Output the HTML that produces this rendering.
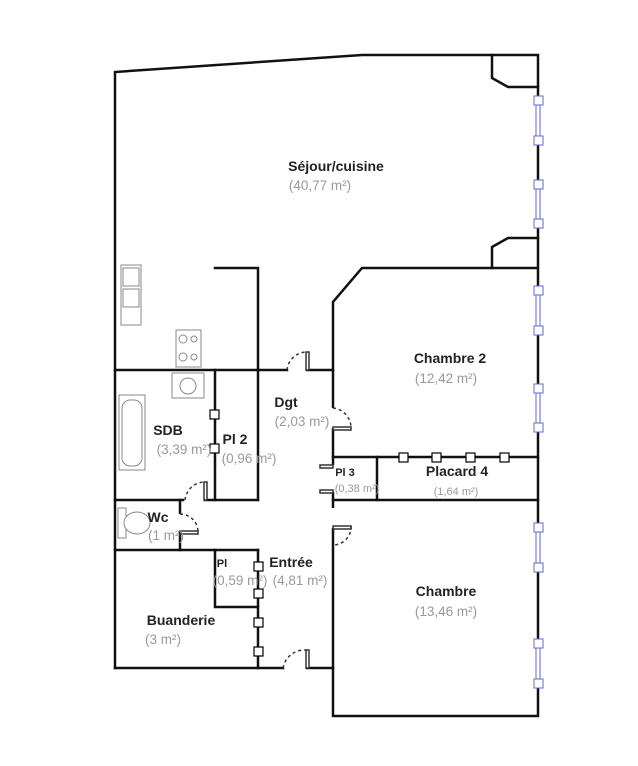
<!DOCTYPE html>
<html><head><meta charset="utf-8"><style>
body{margin:0;background:#fff;}
svg{display:block}
.n{font-family:"Liberation Sans",sans-serif;font-weight:bold;font-size:14px;fill:#222;text-anchor:middle}
.a{font-family:"Liberation Sans",sans-serif;font-size:13.5px;fill:#999;text-anchor:middle}
.s{font-size:11px}
</style></head><body>
<svg width="638" height="766" viewBox="0 0 638 766">
<g stroke="#111" stroke-width="2.5" fill="none" stroke-linecap="square">
<polyline points="115,668 115,72 362,55 538,55 538,716 333,716 333,302 362,268 538,268"/>
<polyline points="492,55 492,78 508,87 538,87"/>
<polyline points="492,268 492,247 508,238 538,238"/>
<polyline points="215,268 258,268 258,370"/>
<line x1="115" y1="370" x2="287" y2="370"/><line x1="307" y1="370" x2="333" y2="370"/>
<line x1="215" y1="370" x2="215" y2="500"/><line x1="258" y1="370" x2="258" y2="500"/>
<line x1="115" y1="500" x2="183" y2="500"/><line x1="205" y1="500" x2="258" y2="500"/>
<line x1="180" y1="500" x2="180" y2="550"/>
<line x1="115" y1="550" x2="258" y2="550"/>
<polyline points="215,550 215,607 258,607"/>
<line x1="258" y1="550" x2="258" y2="668"/>
<line x1="115" y1="668" x2="283" y2="668"/><line x1="307" y1="668" x2="333" y2="668"/>
<line x1="333" y1="457" x2="538" y2="457"/>
<line x1="333" y1="500" x2="538" y2="500"/>
<line x1="377" y1="457" x2="377" y2="500"/>
</g>
<g stroke="#fff" stroke-width="4">
<line x1="333" y1="408" x2="333" y2="428"/><line x1="333" y1="465" x2="333" y2="492"/><line x1="333" y1="508" x2="333" y2="528"/>
<line x1="180" y1="514" x2="180" y2="532"/>
<line x1="538" y1="104" x2="538" y2="136"/><line x1="538" y1="188" x2="538" y2="219"/>
<line x1="538" y1="294" x2="538" y2="326"/><line x1="538" y1="392" x2="538" y2="423"/>
<line x1="538" y1="531" x2="538" y2="563"/><line x1="538" y1="647" x2="538" y2="679"/>
</g>
<g stroke="#333" stroke-width="1.5" fill="none">
<rect x="306" y="352" width="3" height="18" fill="#fff"/>
<path d="M287,370 A20,20 0 0 1 306,352" stroke-dasharray="3,3"/>
<rect x="204" y="482" width="3" height="18" fill="#fff"/>
<path d="M185,500 A20,20 0 0 1 204,482" stroke-dasharray="3,3"/>
<rect x="333" y="427" width="18" height="3" fill="#fff"/>
<path d="M333,408 A20,20 0 0 1 351,427" stroke-dasharray="3,3"/>
<rect x="180" y="531" width="18" height="3" fill="#fff"/>
<path d="M180,514 A18,18 0 0 1 198,531" stroke-dasharray="3,3"/>
<rect x="333" y="526" width="18" height="3" fill="#fff"/>
<path d="M351,526 A18,18 0 0 1 333,545" stroke-dasharray="3,3"/>
<rect x="320" y="465" width="13" height="3" fill="#fff"/><rect x="320" y="490" width="13" height="3" fill="#fff"/>
<rect x="306" y="650" width="3" height="18" fill="#fff"/>
<path d="M283,668 A22,22 0 0 1 306,650" stroke-dasharray="3,3"/>
</g>
<g stroke="#888" stroke-width="1" fill="#fff">
<rect x="121" y="265" width="20" height="60"/><rect x="123" y="268" width="16" height="18"/><rect x="123" y="289" width="16" height="18"/>
<rect x="176" y="330" width="25" height="37"/><circle cx="183" cy="339" r="4"/><circle cx="194" cy="339" r="3"/><circle cx="183" cy="357" r="4"/><circle cx="194" cy="357" r="3"/>
<rect x="172" y="373" width="32" height="25"/><circle cx="188" cy="386" r="8"/>
<rect x="119" y="395" width="26" height="75"/><rect x="122" y="400" width="20" height="66" rx="8"/>
<rect x="118" y="508" width="8" height="30"/><ellipse cx="137" cy="523" rx="13" ry="11"/>
</g>
<g stroke="#000" fill="#fff" stroke-width="1.2">
<rect x="210" y="410" width="9" height="9"/><rect x="210" y="444" width="9" height="9"/>
<rect x="254" y="562" width="9" height="9"/><rect x="254" y="589" width="9" height="9"/><rect x="254" y="618" width="9" height="9"/><rect x="254" y="647" width="9" height="9"/>
<rect x="399" y="453" width="9" height="9"/><rect x="432" y="453" width="9" height="9"/><rect x="466" y="453" width="9" height="9"/><rect x="500" y="453" width="9" height="9"/>
</g>
<g stroke="#66c" fill="#fff" stroke-width="1">
<line x1="536" y1="100" x2="536" y2="140"/><line x1="540" y1="100" x2="540" y2="140"/>
<line x1="536" y1="184" x2="536" y2="223"/><line x1="540" y1="184" x2="540" y2="223"/>
<line x1="536" y1="290" x2="536" y2="330"/><line x1="540" y1="290" x2="540" y2="330"/>
<line x1="536" y1="388" x2="536" y2="427"/><line x1="540" y1="388" x2="540" y2="427"/>
<line x1="536" y1="527" x2="536" y2="567"/><line x1="540" y1="527" x2="540" y2="567"/>
<line x1="536" y1="643" x2="536" y2="683"/><line x1="540" y1="643" x2="540" y2="683"/>
<rect x="534" y="96" width="9" height="9"/><rect x="534" y="136" width="9" height="9"/>
<rect x="534" y="180" width="9" height="9"/><rect x="534" y="219" width="9" height="9"/>
<rect x="534" y="286" width="9" height="9"/><rect x="534" y="326" width="9" height="9"/>
<rect x="534" y="384" width="9" height="9"/><rect x="534" y="423" width="9" height="9"/>
<rect x="534" y="523" width="9" height="9"/><rect x="534" y="563" width="9" height="9"/>
<rect x="534" y="639" width="9" height="9"/><rect x="534" y="679" width="9" height="9"/>
</g>
<text class="n" x="336" y="171">Séjour/cuisine</text><text class="a" x="320" y="190">(40,77 m²)</text>
<text class="n" x="450" y="363">Chambre 2</text><text class="a" x="446" y="383">(12,42 m²)</text>
<text class="n" x="286" y="407">Dgt</text><text class="a" x="302" y="426">(2,03 m²)</text>
<text class="n" x="168" y="435">SDB</text><text class="a" x="184" y="454">(3,39 m²)</text>
<text class="n" x="235" y="444">Pl 2</text><text class="a" x="249" y="463">(0,96 m²)</text>
<text class="n" x="158" y="522">Wc</text><text class="a" x="166" y="540">(1 m²)</text>
<text class="n s" x="345" y="476">Pl 3</text><text class="a s" x="357" y="492">(0,38 m²)</text>
<text class="n" x="457" y="476">Placard 4</text><text class="a s" x="456" y="495">(1,64 m²)</text>
<text class="n s" x="222" y="567">Pl</text><text class="a" x="240" y="585">(0,59 m²)</text>
<text class="n" x="291" y="567">Entrée</text><text class="a" x="300" y="585">(4,81 m²)</text>
<text class="n" x="181" y="625">Buanderie</text><text class="a" x="163" y="644">(3 m²)</text>
<text class="n" x="446" y="596">Chambre</text><text class="a" x="446" y="616">(13,46 m²)</text>
</svg>
</body></html>
